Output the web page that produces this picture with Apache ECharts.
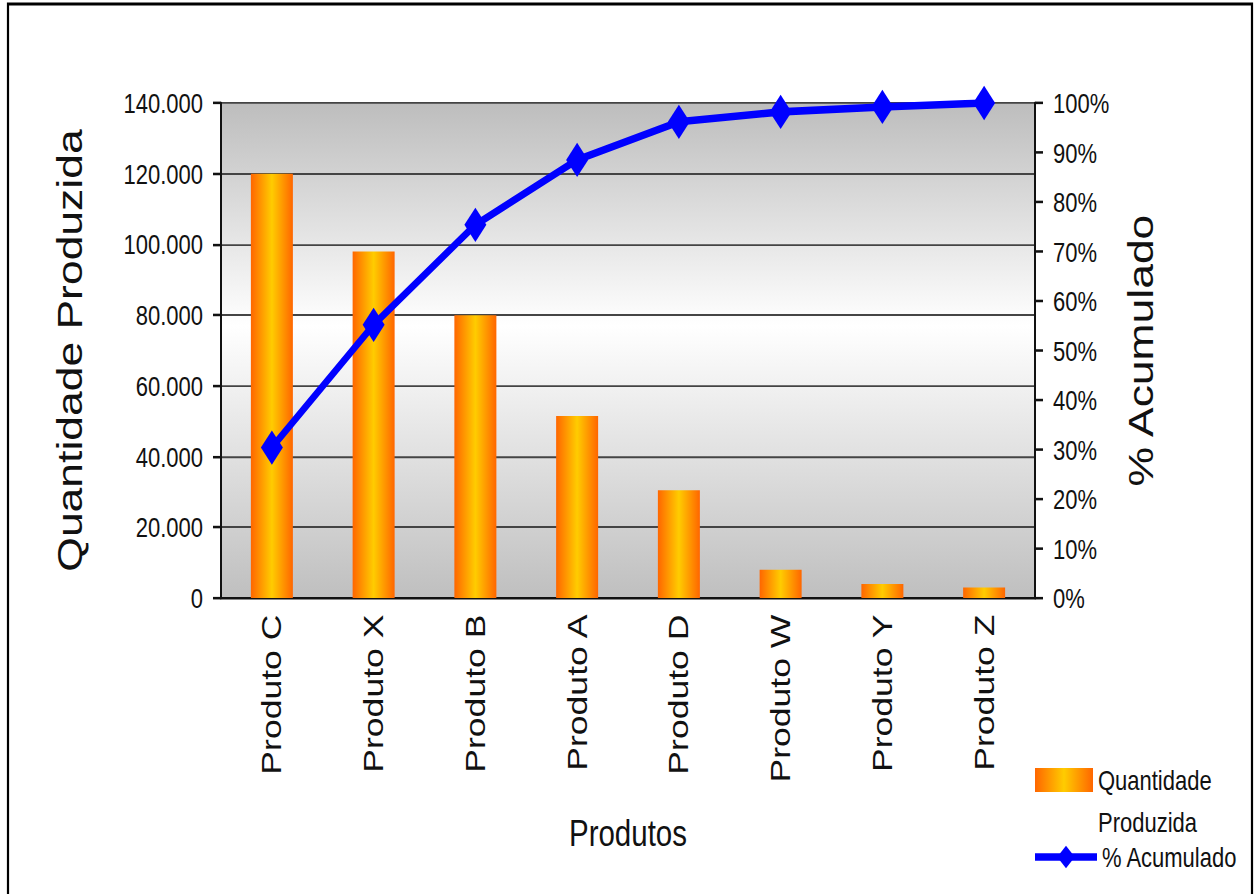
<!DOCTYPE html>
<html>
<head>
<meta charset="utf-8">
<script src="https://cdn.jsdelivr.net/npm/echarts@6/dist/echarts.min.js"></script>
<style>
  html, body { margin: 0; padding: 0; background: #fff; }
  #wrap { position: relative; width: 1260px; height: 894px; }
  #chart { position: absolute; left: 0; top: 0; width: 1260px; height: 704px; transform: scaleY(1.27); transform-origin: 0 0; }
</style>
</head>
<body>
<div id="wrap"><div id="chart"></div></div>
<script>
var categories = ['Produto C', 'Produto X', 'Produto B', 'Produto A', 'Produto D', 'Produto W', 'Produto Y', 'Produto Z'];
var quantidade = [120000, 98000, 80000, 51500, 30500, 8000, 4000, 3000];
var acumulado = [30.4, 55.2, 75.4, 88.5, 96.2, 98.2, 99.2, 100];

// o grafico original esta esticado na vertical: desenha achatado e estica com CSS
var K = 1.27;
function sy(v) { return v / K; }

var font = "'Liberation Sans', Arial, sans-serif";
var ink = '#111';

var myChart = echarts.init(document.getElementById('chart'), null, { renderer: 'svg' });

var barFill = new echarts.graphic.LinearGradient(0, 0, 1, 0, [
    { offset: 0, color: '#ff6600' },
    { offset: 0.5, color: '#ffcc00' },
    { offset: 1, color: '#ff6600' }
]);

var option = {
    animation: false,
    graphic: [{
        type: 'rect',
        shape: { x: 8, y: sy(4), width: 1244, height: 900 },
        style: { fill: 'none', stroke: '#000', lineWidth: 2.2 },
        silent: true
    }],
    grid: {
        left: 221, right: 225, top: sy(103), bottom: sy(296),
        show: true,
        borderWidth: 0,
        backgroundColor: new echarts.graphic.LinearGradient(0, 0, 0, 1, [
            { offset: 0, color: '#bdbdbd' },
            { offset: 0.45, color: '#ffffff' },
            { offset: 1, color: '#bfbfbf' }
        ])
    },
    legend: [{
        orient: 'vertical',
        left: 1035, top: sy(780) - 49.5,
        padding: 0,
        itemWidth: 58, itemHeight: sy(24),
        data: [{ name: 'Quantidade Produzida', icon: 'rect' }],
        // linha vazia em cima para alinhar "Quantidade" com o icone
        formatter: function () { return ' \nQuantidade\nProduzida'; },
        textStyle: { fontFamily: font, fontSize: 22, color: ink, lineHeight: 33 }
    }, {
        orient: 'vertical',
        left: 1032, top: sy(857) - 14,
        padding: 0,
        itemWidth: 62, itemHeight: 22,
        data: ['% Acumulado'],
        lineStyle: { width: 6 },
        textStyle: { fontFamily: font, fontSize: 22, color: ink, lineHeight: 28 }
    }],
    xAxis: {
        type: 'category',
        data: categories,
        name: 'Produtos',
        nameLocation: 'middle',
        nameGap: 170,
        nameTextStyle: { fontFamily: font, fontSize: 29.5, color: ink },
        axisLine: { lineStyle: { color: ink, width: 2 } },
        axisTick: { length: 8, lineStyle: { color: ink, width: 2 } },
        axisLabel: { rotate: 90, margin: 13, fontFamily: font, fontSize: 28, color: ink }
    },
    yAxis: [{
        type: 'value',
        min: 0, max: 140000, interval: 20000,
        name: 'Quantidade Produzida',
        nameLocation: 'middle',
        nameRotate: 90,
        nameGap: 134,
        nameTextStyle: { fontFamily: font, fontSize: 35, color: ink },
        axisLine: { show: true, lineStyle: { color: ink, width: 2 } },
        axisTick: { show: true, length: 8, lineStyle: { color: ink, width: 2 } },
        axisLabel: {
            margin: 18, fontFamily: font, fontSize: 22, color: ink,
            formatter: function (v) { return String(v).replace(/\B(?=(\d{3})+(?!\d))/g, '.'); }
        },
        splitLine: { lineStyle: { color: '#444', width: 1.5 } }
    }, {
        type: 'value',
        min: 0, max: 100, interval: 10,
        position: 'right',
        name: '% Acumulado',
        nameLocation: 'middle',
        nameRotate: 90,
        nameGap: 88,
        nameTextStyle: { fontFamily: font, fontSize: 35, color: ink },
        axisLine: { show: true, lineStyle: { color: ink, width: 2 } },
        axisTick: { show: true, length: 8, lineStyle: { color: ink, width: 2 } },
        axisLabel: { margin: 18, fontFamily: font, fontSize: 22, color: ink, formatter: '{value}%' },
        splitLine: { show: false }
    }],
    series: [{
        name: 'Quantidade Produzida',
        type: 'bar',
        barWidth: 42,
        data: quantidade,
        itemStyle: { color: barFill }
    }, {
        name: '% Acumulado',
        type: 'line',
        yAxisIndex: 1,
        data: acumulado,
        symbol: 'diamond',
        symbolSize: [22, 27],
        lineStyle: { color: '#0000ff', width: 6 },
        itemStyle: { color: '#0000ff' }
    }]
};
myChart.setOption(option);
</script>
</body>
</html>
